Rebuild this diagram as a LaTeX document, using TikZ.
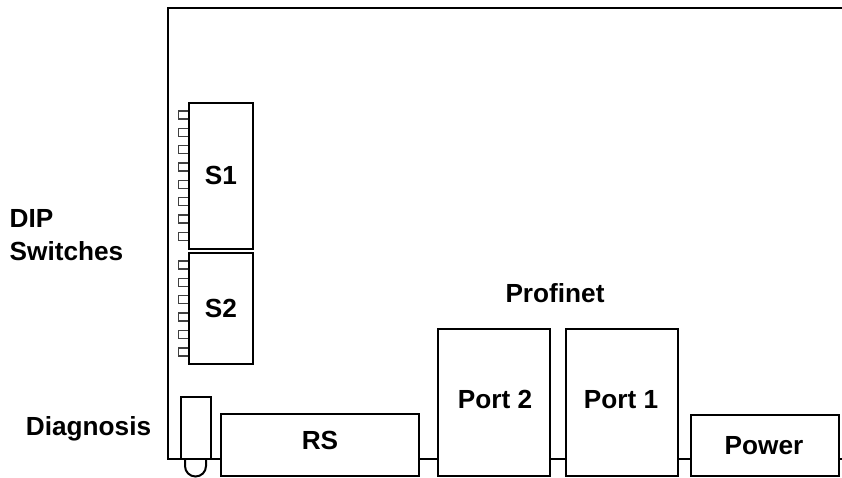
\documentclass[tikz,border=0pt]{standalone}
\usepackage{fontspec}
\setmainfont{Liberation Sans}
\usetikzlibrary{positioning}

\begin{document}
\begin{tikzpicture}[
  x=1pt,y=-1pt,
  every node/.style={font=\fontsize{26.2}{33}\selectfont\bfseries},
  part/.style={draw=black,line width=2pt,fill=white,inner sep=0pt},
  tab/.style={draw=black!75,line width=1.2pt,fill=white,inner sep=0pt,
    minimum width=10.5pt,minimum height=8pt},
  board/.style={black,line width=2pt}
]
  \useasboundingbox (0,0) rectangle (842,477);
  \coordinate (corner) at (168,8);
  \coordinate (topend) at (842,8);
  \coordinate (foot) at (168,459);
  \coordinate (botend) at (842,459);

  % board outline
  \draw[board] (topend) -- (corner) -- (foot) -- (botend);

  % dip switch tabs
  \foreach \y [count=\i] in {115,132.3,149.4,167,184.3,201.7,219,236.3}
    \node[tab] (tabA\i) at (183.7,\y) {};
  \foreach \y [count=\i] in {265,282.3,299.7,317,334.7,352}
    \node[tab] (tabB\i) at (183.7,\y) {};

  \node[part,minimum width=64pt,minimum height=146pt] (s1) at (221,175.7) {S1};
  \node[part,minimum width=64pt,minimum height=111pt] (s2) at (221,308.5) {S2};

  % diagnosis led
  \draw[board] (185,459) -- (185,466) arc[start angle=180,end angle=0,radius=10.5] -- (206,459);
  \node[part,minimum width=30pt,minimum height=62pt] (led) at (196,428) {};

  \node[part,minimum width=198pt,minimum height=62pt] (rs) at (320.3,445) {};
  \node[part,minimum width=112pt,minimum height=147pt] (port2) at (494,402.5) {};
  \node[part,minimum width=112pt,minimum height=147pt] (port1) at (621.5,402.5) {};
  \node[part,minimum width=148pt,minimum height=61pt] (power) at (765.3,445.5) {};

  \node (rstext) at (320,440) {RS};
  \node (port2text) at (495,399.5) {Port 2};
  \node (port1text) at (621,399.5) {Port 1};
  \node (powertext) at (764,446) {Power};

  \node (profinet) at (555,293.5) {Profinet};
  \node[align=left,anchor=west,inner sep=0pt] (dip) at (9.5,235) {DIP\\Switches};
  \node (diagnosis) at (88.5,429) {Diagnosis};
\end{tikzpicture}
\end{document}
